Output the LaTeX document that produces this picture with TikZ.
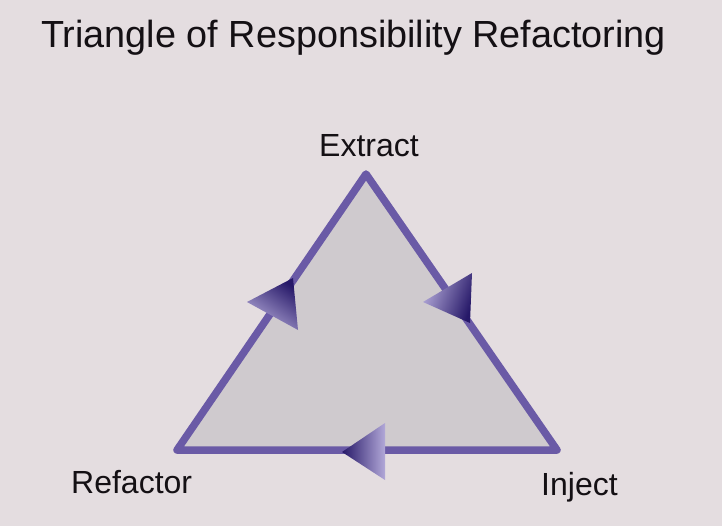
\documentclass[tikz,border=0pt]{standalone}
\usepackage{fontspec}
\setmainfont{Liberation Sans}
\definecolor{bgcol}{RGB}{228,221,224}
\definecolor{fillcol}{RGB}{207,202,206}
\definecolor{edgecol}{RGB}{106,90,166}
\definecolor{arrdark}{RGB}{38,24,104}
\definecolor{arrlight}{RGB}{178,168,216}
\definecolor{txtcol}{RGB}{20,16,20}
\tikzset{
  titletext/.style={inner sep=0pt, text=txtcol, font=\fontsize{37.8}{44}\selectfont},
  cornertext/.style={inner sep=0pt, text=txtcol, font=\fontsize{32}{38}\selectfont},
  triedge/.style={draw=edgecol, fill=fillcol, line width=7.5pt, line join=round},
  arrhead/.style={top color=arrdark, bottom color=arrlight}
}
\begin{document}
\begin{tikzpicture}[x=1pt,y=-1pt]
\fill[bgcol] (0,0) rectangle (722,526);
\useasboundingbox (0,0) rectangle (722,526);
% title
\node[titletext, anchor=base west] (title) at (41,48) {Triangle of Responsibility Refactoring};
% corners
\coordinate (top) at (366,174);
\coordinate (bl) at (177,450);
\coordinate (br) at (557,450);
\draw[triedge] (top) -- (br) -- (bl) -- cycle;
% arrowheads
\shade[arrhead, shading angle=-35] (293,278) -- (247,302) -- (298,330) -- cycle;
\shade[arrhead, shading angle=-110] (472,273) -- (423,302) -- (470,323) -- cycle;
\shade[arrhead, shading angle=90] (342,452) -- (385,423) -- (385,480) -- cycle;
% labels
\node[cornertext, anchor=base] (extract) at (369,157) {Extract};
\node[cornertext, anchor=base west] (refactor) at (71,493) {Refactor};
\node[cornertext, anchor=base west] (inject) at (541,495) {Inject};
\end{tikzpicture}
\end{document}
